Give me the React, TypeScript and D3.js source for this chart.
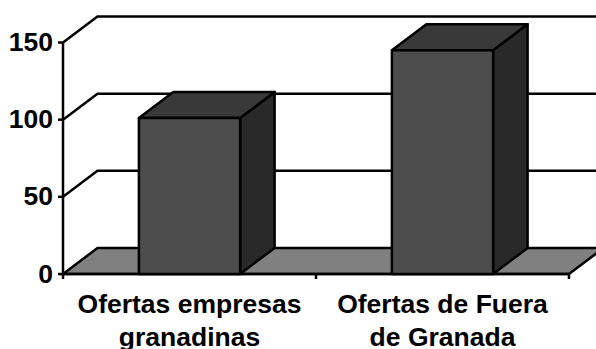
import React, { useEffect } from 'react';
import * as d3 from 'd3';

const categories = ['Ofertas empresas', 'Ofertas de Fuera'];
const categoryLine2 = ['granadinas', 'de Granada'];
const values = [101, 145];
const yTicks = [0, 50, 100, 150];

const width = 596;
const height = 349;
const depthX = 34.5;
const depthY = 26;
const stroke = '#000';
const lineW = 2.5;

const x = d3.scaleBand<string>().domain(categories).range([63, 569]).paddingInner(0.6).paddingOuter(0.3);
const y = d3.scaleLinear().domain([0, 150]).range([274, 42.5]);

const poly = (pts: [number, number][]) => (d3.line()(pts) as string) + 'Z';

export default function App() {
  useEffect(() => {
    document.body.style.margin = '0';
  }, []);

  const x0 = x.range()[0];
  const x1 = x.range()[1];
  const base = y(0);

  return (
    <svg width={width} height={height} style={{ position: 'absolute', left: 0, top: 0, background: '#fff' }} fontFamily="'Liberation Sans', Arial, sans-serif" fontWeight="bold">
      {/* floor */}
      <path
        d={poly([[x0, base], [x0 + depthX, base - depthY], [x1 + depthX, base - depthY], [x1, base]])}
        fill="#808080"
        stroke={stroke}
        strokeWidth={lineW}
      />
      {/* gridlines on the side and back walls */}
      {yTicks.filter(t => t > 0).map(t => (
        <path
          key={t}
          d={d3.line()([[x0, y(t)], [x0 + depthX, y(t) - depthY], [x1 + depthX, y(t) - depthY]]) as string}
          fill="none"
          stroke={stroke}
          strokeWidth={lineW}
        />
      ))}
      {/* axes */}
      <line x1={x0} x2={x0} y1={y(150)} y2={base + 5} stroke={stroke} strokeWidth={lineW} />
      <line x1={x0} x2={x1} y1={base} y2={base} stroke={stroke} strokeWidth={lineW} />
      {yTicks.map(t => (
        <g key={t}>
          <line x1={x0 - 5} x2={x0} y1={y(t)} y2={y(t)} stroke={stroke} strokeWidth={lineW} />
          <text x={x0 - 10} y={y(t) + 8.5} textAnchor="end" fontSize={26.5} fill="#000">{t}</text>
        </g>
      ))}
      {[1, 2].map(i => {
        const tx = x0 + ((x1 - x0) * i) / 2;
        return <line key={i} x1={tx} x2={tx} y1={base} y2={base + 5} stroke={stroke} strokeWidth={lineW} />;
      })}
      {/* bars */}
      {categories.map((c, i) => {
        const left = x(c) as number;
        const right = left + x.bandwidth();
        const top = y(values[i]);
        return (
          <g key={c} stroke={stroke} strokeWidth={lineW} strokeLinejoin="round">
            <path d={poly([[right, base], [right + depthX, base - depthY], [right + depthX, top - depthY], [right, top]])} fill="#292929" />
            <path d={poly([[left, top], [left + depthX, top - depthY], [right + depthX, top - depthY], [right, top]])} fill="#393939" />
            <path d={poly([[left, base], [left, top], [right, top], [right, base]])} fill="#4d4d4d" />
          </g>
        );
      })}
      {/* category labels */}
      {categories.map((c, i) => {
        const cx = (x(c) as number) + x.bandwidth() / 2;
        return (
          <text key={c} textAnchor="middle" fontSize={26.5} fill="#000">
            <tspan x={cx} y={313}>{c}</tspan>
            <tspan x={cx} y={346}>{categoryLine2[i]}</tspan>
          </text>
        );
      })}
    </svg>
  );
}
